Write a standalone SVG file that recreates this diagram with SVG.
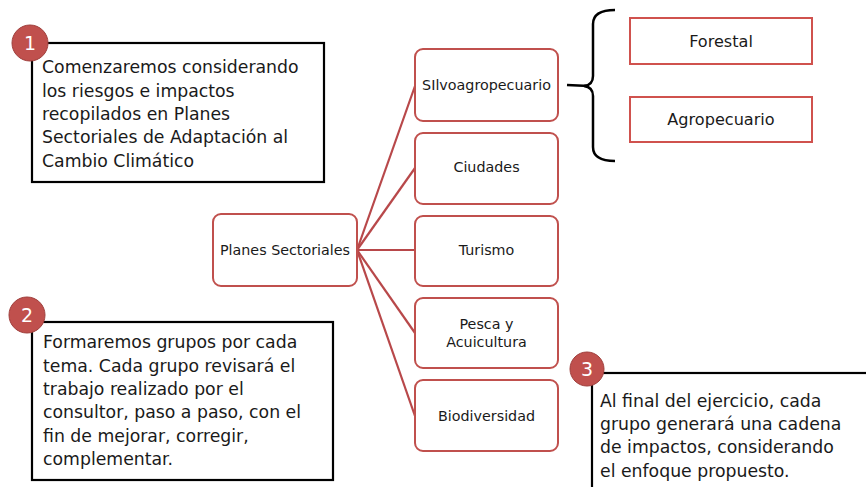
<svg xmlns="http://www.w3.org/2000/svg" width="866" height="487" viewBox="0 0 866 487">
<style>
.note{fill:#fff;stroke:#000;stroke-width:2.2}
.nt{font-family:"DejaVu Sans",sans-serif;font-size:17.3px;fill:#1a1a1a}
.badge{fill:#c0504d;stroke:#a0403d;stroke-width:1}
.bt{font-family:"DejaVu Sans",sans-serif;font-size:19px;fill:#fff;text-anchor:middle}
.node{fill:#fff;stroke:#c0504d;stroke-width:2}
.lt{font-family:"DejaVu Sans",sans-serif;font-size:14.3px;fill:#1a1a1a;text-anchor:middle}
.sub{fill:#fff;stroke:#d0524e;stroke-width:2}
.st{font-family:"DejaVu Sans",sans-serif;font-size:16.1px;fill:#1a1a1a;text-anchor:middle}
.conn{stroke:#b8484a;stroke-width:2.2;fill:none}
</style>
<rect width="866" height="487" fill="#fff"/>
<g id="connectors">
<line class="conn" x1="357" y1="250" x2="415" y2="86"/>
<line class="conn" x1="357" y1="250" x2="415" y2="168"/>
<line class="conn" x1="357" y1="250" x2="415" y2="250"/>
<line class="conn" x1="357" y1="250" x2="415" y2="333"/>
<line class="conn" x1="357" y1="250" x2="415" y2="416"/>
<line x1="567" y1="85" x2="589" y2="86" stroke="#000" stroke-width="2.5"/>
<path d="M615,10 Q593,10 593,24 L593,76 Q593,85 584,86 Q593,87 593,96 L593,147 Q593,161 615,161" fill="none" stroke="#000" stroke-width="2.5"/>
</g>
<g id="note1">
<rect class="note" x="32" y="43" width="292" height="139"/>
<circle class="badge" cx="30" cy="43" r="18"/>
<text class="bt" x="30" y="50">1</text>
<text class="nt" x="42" y="73">Comenzaremos considerando</text>
<text class="nt" x="42" y="97">los riesgos e impactos</text>
<text class="nt" x="42" y="120">recopilados en Planes</text>
<text class="nt" x="42" y="143">Sectoriales de Adaptación al</text>
<text class="nt" x="42" y="167">Cambio Climático</text>
</g>
<g id="note2">
<rect class="note" x="32" y="322" width="301" height="158"/>
<circle class="badge" cx="27" cy="315" r="18"/>
<text class="bt" x="27" y="322">2</text>
<text class="nt" x="43" y="348">Formaremos grupos por cada</text>
<text class="nt" x="43" y="372">tema. Cada grupo revisará el</text>
<text class="nt" x="43" y="395">trabajo realizado por el</text>
<text class="nt" x="43" y="418">consultor, paso a paso, con el</text>
<text class="nt" x="43" y="442">fin de mejorar, corregir,</text>
<text class="nt" x="43" y="465">complementar.</text>
</g>
<g id="note3">
<rect class="note" x="592" y="373" width="290" height="130"/>
<circle class="badge" cx="587" cy="369" r="17"/>
<text class="bt" x="587" y="376">3</text>
<text class="nt" x="600" y="407">Al final del ejercicio, cada</text>
<text class="nt" x="600" y="430">grupo generará una cadena</text>
<text class="nt" x="600" y="453">de impactos, considerando</text>
<text class="nt" x="600" y="477">el enfoque propuesto.</text>
</g>
<g id="planes">
<rect class="node" x="213" y="214" width="144" height="72" rx="8"/>
<text class="lt" x="285" y="255">Planes Sectoriales</text>
</g>
<g id="silvo">
<rect class="node" x="415" y="49" width="143" height="72" rx="8"/>
<text class="lt" x="486.5" y="90">SIlvoagropecuario</text>
</g>
<g id="ciudades">
<rect class="node" x="415" y="133" width="143" height="71" rx="8"/>
<text class="lt" x="486.5" y="172">Ciudades</text>
</g>
<g id="turismo">
<rect class="node" x="415" y="216" width="143" height="70" rx="8"/>
<text class="lt" x="486.5" y="255">Turismo</text>
</g>
<g id="pesca">
<rect class="node" x="415" y="298" width="143" height="70" rx="8"/>
<text class="lt" x="486.5" y="329">Pesca y</text>
<text class="lt" x="486.5" y="347">Acuicultura</text>
</g>
<g id="biodiversidad">
<rect class="node" x="415" y="380" width="143" height="71" rx="8"/>
<text class="lt" x="486.5" y="421">Biodiversidad</text>
</g>
<g id="forestal">
<rect class="sub" x="630" y="18" width="182" height="46"/>
<text class="st" x="721" y="47">Forestal</text>
</g>
<g id="agropecuario">
<rect class="sub" x="630" y="97" width="182" height="45"/>
<text class="st" x="721" y="125">Agropecuario</text>
</g>
</svg>
